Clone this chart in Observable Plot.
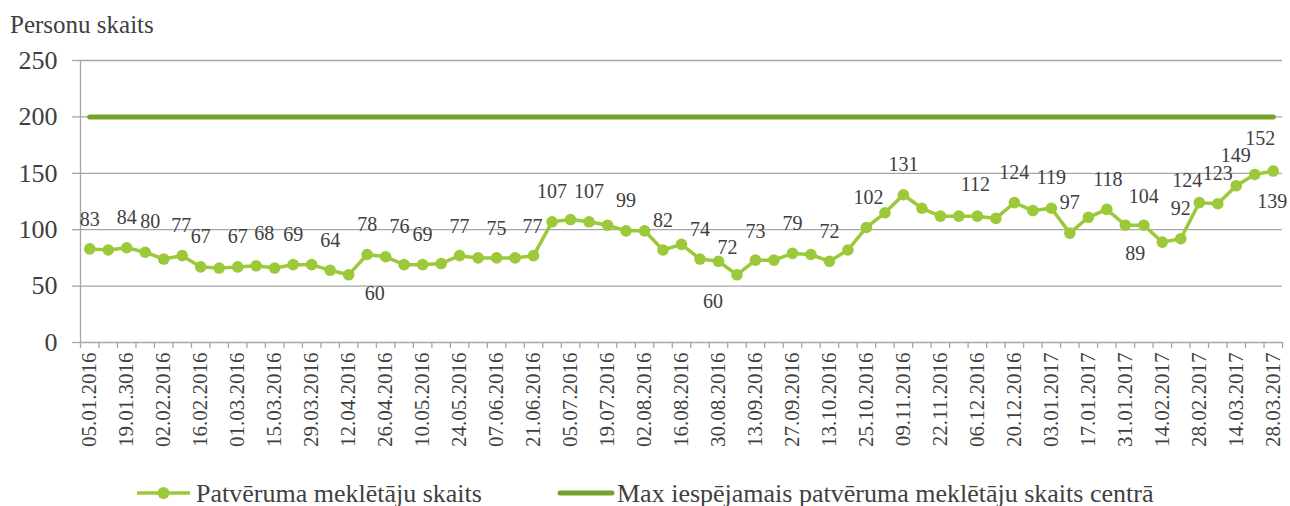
<!DOCTYPE html>
<html>
<head>
<meta charset="utf-8">
<script src="https://cdn.jsdelivr.net/npm/d3@7"></script>
<script src="https://cdn.jsdelivr.net/npm/@observablehq/plot@0.6"></script>
<style>
  html, body { margin: 0; padding: 0; background: #fff; }
  #wrap { position: relative; width: 1290px; height: 506px; font-family: 'Times New Roman', 'Liberation Serif', 'Noto Serif', 'DejaVu Serif', 'FreeSerif', serif; color: #404040; }
  #title { position: absolute; left: 10px; top: 12px; font-size: 25px; line-height: 25px; white-space: nowrap; }
  #chart { position: absolute; left: 0; top: 40px; }
  #legend { position: absolute; left: 0; top: 460px; }
  svg text { font-family: 'Times New Roman', 'Liberation Serif', 'Noto Serif', 'DejaVu Serif', 'FreeSerif', serif !important; }
</style>
</head>
<body>
<div id="wrap">
  <div id="title">Personu skaits</div>
  <div id="chart"></div>
  <div id="legend"></div>
</div>
<script>
// ---- data ----
const tickLabels = [
  "05.01.2016","19.01.3016","02.02.2016","16.02.2016","01.03.2016","15.03.2016","29.03.2016",
  "12.04.2016","26.04.2016","10.05.2016","24.05.2016","07.06.2016","21.06.2016","05.07.2016",
  "19.07.2016","02.08.2016","16.08.2016","30.08.2016","13.09.2016","27.09.2016","13.10.2016",
  "25.10.2016","09.11.2016","22.11.2016","06.12.2016","20.12.2016","03.01.2017","17.01.2017",
  "31.01.2017","14.02.2017","28.02.2017","14.03.2017","28.03.2017"
];
const seekers = [
  83, 82, 84, 80, 74, 77, 67, 66, 67, 68, 66, 69, 69, 64, 60, 78, 76, 69, 69, 70,
  77, 75, 75, 75, 77, 107, 109, 107, 104, 99, 99, 82, 87, 74, 72, 60, 73, 73, 79, 78,
  72, 82, 102, 115, 131, 119, 112, 112, 112, 110, 124, 117, 119, 97, 111, 118, 104, 104, 89, 92,
  124, 123, 139, 149, 152
];
const maxCapacity = 200;
const seriesNames = ["Patvēruma meklētāju skaits", "Max iespējamais patvēruma meklētāju skaits centrā"];
// points that carry a data label
const labelledPoints = [0,2,3,5,6,8,9,11,13,14,15,16,18,20,22,24,25,27,29,31,33,34,35,36,38,40,42,44,48,50,52,53,55,57,58,59,60,61,62,63,64];
// label placement nudges (px) relative to each labelled point
const labelNudge = [
  [0,-29],[0,-30],[5,-31],[-1,-30],[0,-30],[0,-30],[8,-32],[0,-30],[0,-30],[26,19],
  [0,-30],[14,-30],[0,-30],[0,-29],[0,-29],[-1,-29],[0,-30],[0,-30],[0,-30],[0,-29],
  [0,-29],[9,-14],[-24,27],[0,-29],[0,-30],[0,-30],[2,-30],[0,-30],[-2,-32],[0,-30],
  [0,-31],[0,-30],[1,-30],[0,-29],[-27,11],[0,-30],[-12,-22],[0,-30],[36,16],[-19,-19],
  [-13,-32]
];

// ---- styling ----
const fontStack = "'Times New Roman', 'Liberation Serif', 'Noto Serif', 'DejaVu Serif', 'FreeSerif', serif";
const cSeries = "#9BC93A";
const cMax = "#76A12B";
const cGrid = "#a6a6a6";
const cText = "#404040";

const points = seekers.map((v, i) => ({i, v}));
const maxLine = [{i: 0, v: maxCapacity}, {i: seekers.length - 1, v: maxCapacity}];

const labelMarks = labelledPoints.map((idx, k) =>
  Plot.text([points[idx]], {
    x: "i", y: "v", text: d => String(d.v),
    dx: labelNudge[k][0], dy: labelNudge[k][1],
    fontSize: 20, fill: cText, textAnchor: "middle", lineAnchor: "middle"
  })
);

const chart = Plot.plot({
  width: 1290,
  height: 420,
  marginTop: 20,
  marginBottom: 118,
  marginLeft: 80,
  marginRight: 8,
  style: {fontFamily: fontStack, color: cText, background: "white"},
  x: {type: "linear", domain: [-0.5, seekers.length - 0.5]},
  y: {domain: [0, 250]},
  marks: [
    Plot.gridY([50, 100, 150, 200, 250], {stroke: cGrid, strokeOpacity: 1, strokeWidth: 1.3}),
    Plot.ruleY([0], {stroke: cGrid, strokeWidth: 1.3}),
    Plot.ruleX([-0.5], {stroke: cGrid, strokeWidth: 1.3}),
    Plot.axisY([0, 50, 100, 150, 200, 250], {
      tickSize: 8, tickPadding: 15, stroke: cGrid, strokeWidth: 1.3, fontSize: 26, fill: cText, label: null
    }),
    Plot.axisX(d3.range(-0.5, seekers.length, 1), {
      tickSize: 6, tickFormat: () => "", stroke: cGrid, strokeWidth: 1.3, label: null
    }),
    Plot.axisX(d3.range(0, seekers.length, 2), {
      tickSize: 0, tickPadding: 10, tickRotate: -90, tickFormat: i => tickLabels[i / 2],
      fontSize: 21, fill: cText, label: null
    }),
    Plot.line(maxLine, {x: "i", y: "v", stroke: cMax, strokeWidth: 5, strokeLinecap: "round"}),
    Plot.line(points, {x: "i", y: "v", stroke: cSeries, strokeWidth: 3.5}),
    Plot.dot(points, {x: "i", y: "v", r: 5.8, fill: cSeries, stroke: "none"}),
    ...labelMarks
  ]
});
document.getElementById("chart").appendChild(chart);

// ---- legend ----
const ns = "http://www.w3.org/2000/svg";
const lg = document.createElementNS(ns, "svg");
lg.setAttribute("width", 1290);
lg.setAttribute("height", 46);
lg.innerHTML = `
  <line x1="137" x2="190" y1="33" y2="33" stroke="${cSeries}" stroke-width="3.5"/>
  <circle cx="163.5" cy="33" r="6" fill="${cSeries}"/>
  <text x="196" y="41.5" font-size="26" fill="${cText}">${seriesNames[0]}</text>
  <line x1="560" x2="612" y1="33" y2="33" stroke="${cMax}" stroke-width="5" stroke-linecap="round"/>
  <text x="617" y="41.5" font-size="26" fill="${cText}">${seriesNames[1]}</text>
`;
document.getElementById("legend").appendChild(lg);
</script>
</body>
</html>
